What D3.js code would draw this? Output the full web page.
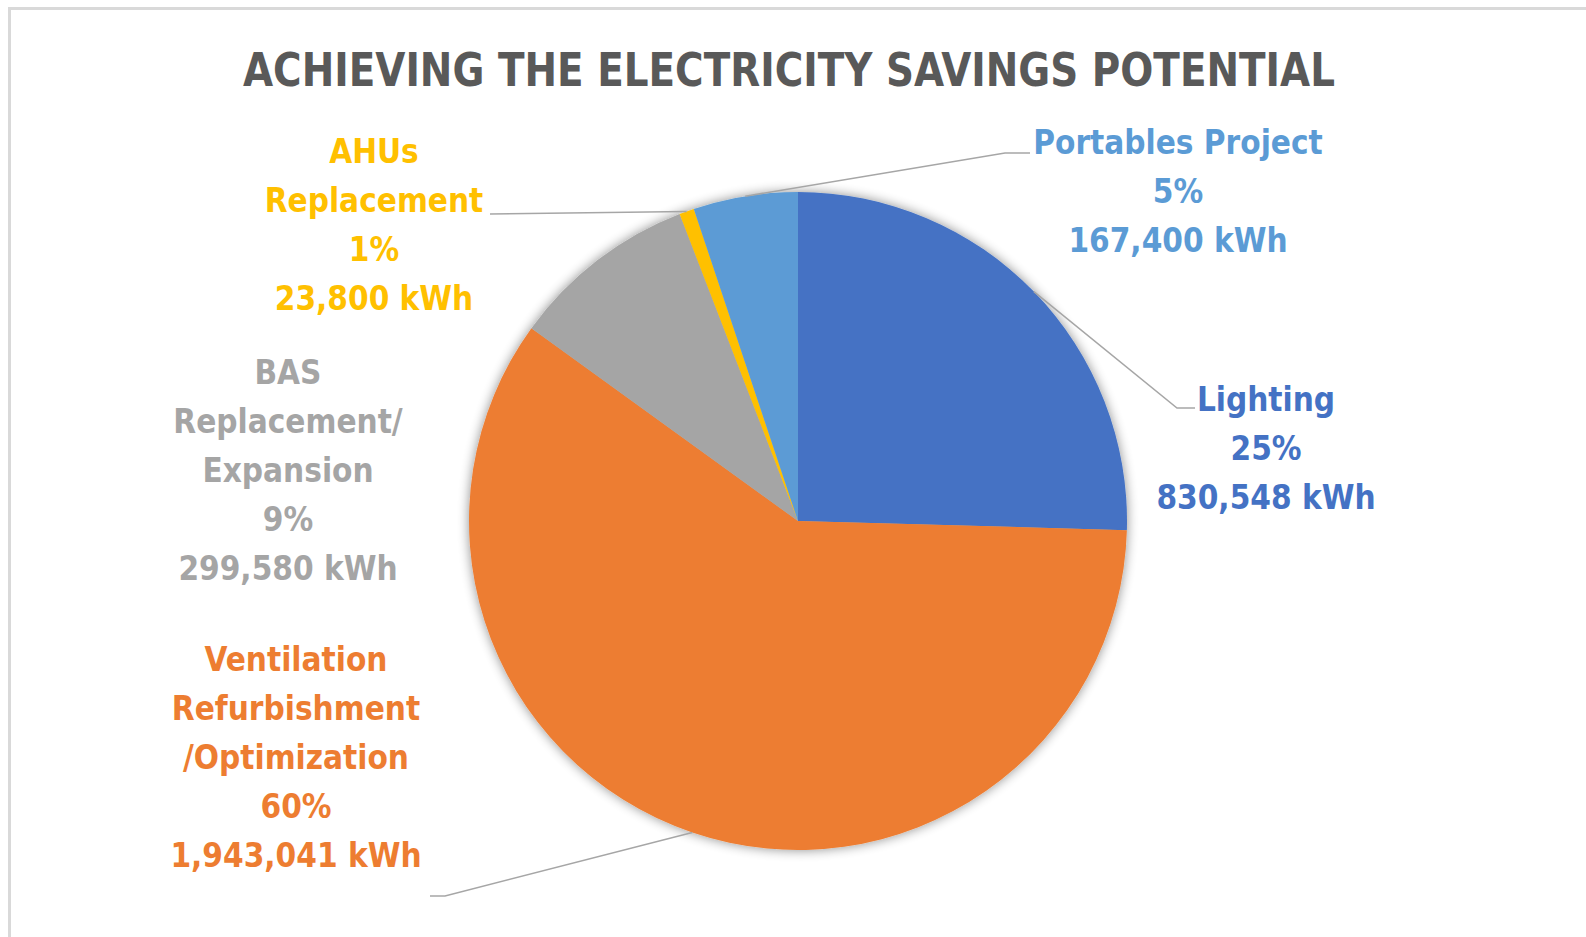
<!DOCTYPE html>
<html>
<head>
<meta charset="utf-8">
<script src="https://cdn.jsdelivr.net/npm/d3@7"></script>
<style>
    html, body { margin: 0; padding: 0; background: #fff; }
    svg { display: block; }
    .lbl { font-family: "Liberation Sans Narrow", "Arial Narrow", "DejaVu Sans Condensed", sans-serif; font-weight: bold; }
</style>
</head>
<body>
<svg id="chart" width="1586" height="937"></svg>
<script>
// data
const categories = ['Lighting', 'Ventilation Refurbishment /Optimization', 'BAS Replacement/ Expansion', 'AHUs Replacement', 'Portables Project'];
const nameLines = [['Lighting'], ['Ventilation', 'Refurbishment', '/Optimization'], ['BAS', 'Replacement/', 'Expansion'], ['AHUs', 'Replacement'], ['Portables Project']];
const savings = [830548, 1943041, 299580, 23800, 167400];
const colors = ['#4472C4', '#ED7D31', '#A5A5A5', '#FFC000', '#5B9BD5'];

// where each label sits (center x, first baseline) and the elbow of its leader
const labelPos = [[1266, 411], [296, 671], [288, 384], [374, 163], [1178, 154]];
const leaders = [
    [[1177, 408], [1195, 408]],
    [[445, 896], [430, 896]],
    null,
    [[490, 214]],
    [[1005, 153], [1030, 153]]
];

const width = 1586, height = 937;
const cx = 798, cy = 521, radius = 329;
const lineH = 49;

const svg = d3.select('#chart');

// chart area border (only top and left visible)
svg.append('rect').attr('x', 8).attr('y', 7).attr('width', width).attr('height', 3).attr('fill', '#d9d9d9');
svg.append('rect').attr('x', 8).attr('y', 7).attr('width', 3).attr('height', height).attr('fill', '#d9d9d9');

svg.append('text')
    .attr('class', 'lbl')
    .attr('x', 789)
    .attr('y', 86)
    .attr('text-anchor', 'middle')
    .attr('fill', '#595959')
    .attr('font-size', 47)
    .attr('textLength', 1092)
    .attr('lengthAdjust', 'spacingAndGlyphs')
    .text('ACHIEVING THE ELECTRICITY SAVINGS POTENTIAL');

const defs = svg.append('defs');
const shadow = defs.append('filter').attr('id', 'shadow')
    .attr('x', '-20%').attr('y', '-20%').attr('width', '140%').attr('height', '140%');
shadow.append('feGaussianBlur').attr('in', 'SourceAlpha').attr('stdDeviation', 6).attr('result', 'blur');
shadow.append('feComponentTransfer').append('feFuncA').attr('type', 'linear').attr('slope', 0.45);
const merge = shadow.append('feMerge');
merge.append('feMergeNode');
merge.append('feMergeNode').attr('in', 'SourceGraphic');

const pie = d3.pie().sort(null).value(d => d);
const arcs = pie(savings);
const arc = d3.arc().innerRadius(0).outerRadius(radius);
const total = d3.sum(savings);
const pct = d3.format('.0%');
const kwh = d3.format(',');

const g = svg.append('g').attr('transform', `translate(${cx},${cy})`);
g.append('g').attr('filter', 'url(#shadow)')
    .selectAll('path')
    .data(arcs)
    .enter()
    .append('path')
    .attr('d', arc)
    .attr('fill', (d, i) => colors[i]);

// leader lines from slice edge to label
arcs.forEach((d, i) => {
    if (!leaders[i]) return;
    const a = (d.startAngle + d.endAngle) / 2;
    const edge = [cx + radius * Math.sin(a), cy - radius * Math.cos(a)];
    svg.append('path')
        .attr('d', d3.line()([edge].concat(leaders[i])))
        .attr('fill', 'none')
        .attr('stroke', '#a6a6a6')
        .attr('stroke-width', 1.5);
});

// labels
arcs.forEach((d, i) => {
    const lines = nameLines[i].concat([pct(d.value / total), kwh(d.value) + ' kWh']);
    const t = svg.append('text')
        .attr('class', 'lbl')
        .attr('text-anchor', 'middle')
        .attr('fill', colors[i])
        .attr('font-size', 33);
    lines.forEach((s, j) => {
        t.append('tspan')
            .attr('x', labelPos[i][0])
            .attr('y', labelPos[i][1] + j * lineH)
            .text(s);
    });
});
</script>
</body>
</html>
